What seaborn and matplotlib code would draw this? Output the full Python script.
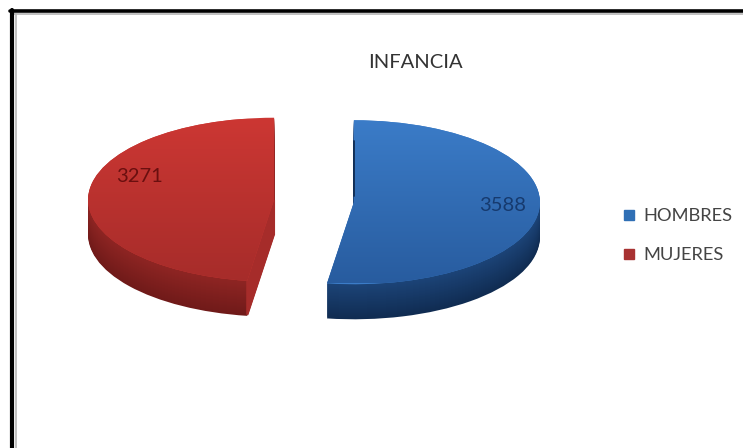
import numpy as np
import seaborn as sns
from matplotlib import pyplot as plt
from matplotlib import colors as mcolors
from matplotlib.lines import Line2D

title = 'INFANCIA'
categories = ['HOMBRES', 'MUJERES']
values = [3588, 3271]

top_colors = [['#3b7cc8', '#285c9f'], ['#cc3733', '#a62c2a']]
side_colors = [['#1c4478', '#102c52'], ['#8f2523', '#701a19']]
legend_colors = ['#2f6fb5', '#a83232']
label_colors = ['#163a6e', '#6a0f0f']
label_pos = [(503, 205), (140, 176)]

W, H = 743, 448
rx, ry = 186, 82
depth = 35
cx, cy = 314, 201

sns.set_theme(style='white')
plt.rcParams['font.family'] = ['Lato', 'DejaVu Sans']

fig = plt.figure(figsize=(W / 100, H / 100), dpi=100, facecolor='white')
ax = fig.add_axes([0, 0, 1, 1])


def px(x, y):
    # picture pixels to data units of the squashed pie axes
    return x / rx, (H - y) / ry


# stacked pies for the side of the 3D pie, lowest first
for d in range(depth, 0, -1):
    t = d / depth
    layer = [mcolors.to_hex(np.array(mcolors.to_rgb(a)) * (1 - t) + np.array(mcolors.to_rgb(b)) * t)
             for a, b in side_colors]
    ax.pie(values, colors=layer, center=px(cx, cy + d), startangle=90, counterclock=False,
           explode=[0.215, 0.215], radius=1, wedgeprops={'linewidth': 0})

# top face
wedges, _ = ax.pie(values, colors=[c[0] for c in top_colors], center=px(cx, cy), startangle=90,
                   counterclock=False, explode=[0.215, 0.215], radius=1,
                   wedgeprops={'linewidth': 0, 'zorder': 3})

# the cut face of the red slice is lit like its top
red = wedges[1]
ang = np.deg2rad(red.theta2)
x_end = red.center[0] + np.cos(ang)
y_end = red.center[1] + np.sin(ang)
for d in range(depth):
    ax.plot([red.center[0], x_end], [red.center[1] - d / ry, y_end - d / ry],
            color=top_colors[1][1], lw=1.6, zorder=2, solid_capstyle='butt')

# dark sliver along the straight upper edge of the blue slice
blue = wedges[0]
ax.plot([blue.center[0], blue.center[0]], [blue.center[1] + 0.08, blue.center[1] + 0.75],
        color=side_colors[0][1], lw=1.3, zorder=5)

ramp = np.linspace(0, 1, 256).reshape(-1, 1)
for w, c in zip(wedges, top_colors):
    cmap = mcolors.LinearSegmentedColormap.from_list('top', c)
    x0, y0 = px(0, cy - ry)
    x1, y1 = px(W, cy + ry)
    im = ax.imshow(ramp, cmap=cmap, extent=[x0, x1, y1, y0], aspect='auto', zorder=4)
    im.set_clip_path(w)

ax.set_aspect('auto')
ax.set_xlim(0, W / rx)
ax.set_ylim(0, H / ry)
ax.axis('off')

for v, p, c in zip(values, label_pos, label_colors):
    ax.text(*px(*p), str(v), color=c, fontsize=14.5, ha='center', va='center', zorder=10)

fig.text(415 / W, 1 - 63 / H, title, color='#333333', fontsize=14.5, ha='center', va='center')

handles = [Line2D([], [], ls='', marker='s', ms=6.5, color=c) for c in legend_colors]
fig.legend(handles, categories, loc='center left', bbox_to_anchor=(611 / W, 1 - 235.5 / H), frameon=False,
           fontsize=13.2, labelcolor='#444444', handlelength=2, handletextpad=-0.25, labelspacing=1.25,
           borderpad=0, borderaxespad=0)

# picture frame, left and top only, with the soft grey fringe of the scan
fig.add_artist(Line2D([15.5 / W, 15.5 / W], [0, 1 - 14 / H], color='#b5b5b5', lw=1.2))
fig.add_artist(Line2D([14 / W, 1], [1 - 14 / H, 1 - 14 / H], color='#b5b5b5', lw=1.2))
fig.add_artist(Line2D([12 / W, 12 / W], [0, 1 - 10 / H], color='black', lw=3))
fig.add_artist(Line2D([10 / W, 1], [1 - 11.5 / H, 1 - 11.5 / H], color='black', lw=2.6))

plt.savefig('out.png', dpi=100)
